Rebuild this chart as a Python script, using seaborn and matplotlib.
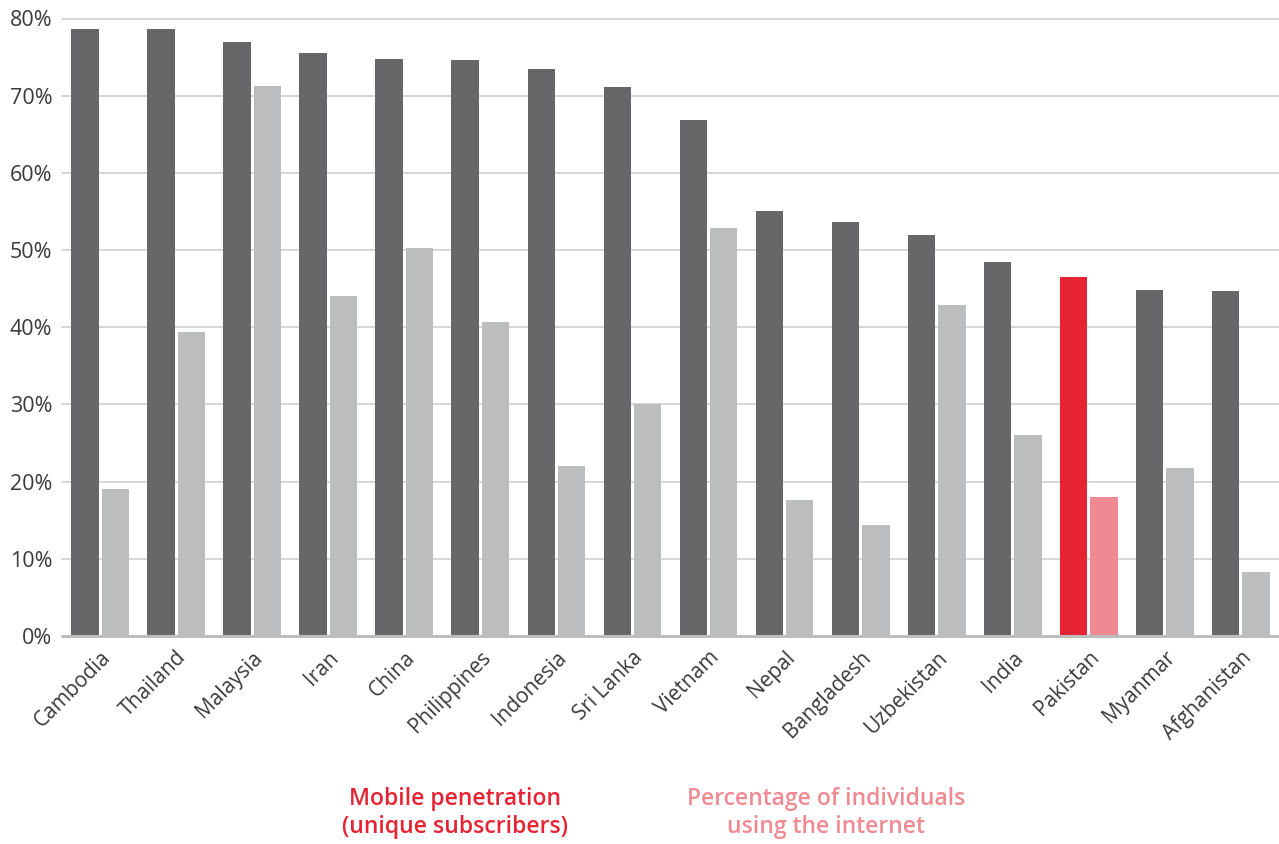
import matplotlib
matplotlib.use("Agg")
import matplotlib.pyplot as plt
import seaborn as sns
import pandas as pd
from matplotlib.ticker import FuncFormatter

countries = ["Cambodia", "Thailand", "Malaysia", "Iran", "China", "Philippines",
             "Indonesia", "Sri Lanka", "Vietnam", "Nepal", "Bangladesh",
             "Uzbekistan", "India", "Pakistan", "Myanmar", "Afghanistan"]
mobile = [78.7, 78.7, 77.0, 75.5, 74.7, 74.6, 73.4, 71.1, 66.8, 55.1, 53.6,
          52.0, 48.4, 46.5, 44.8, 44.7]
internet = [19.1, 39.4, 71.2, 44.1, 50.3, 40.7, 22.0, 30.1, 52.8, 17.6, 14.4,
            42.9, 26.0, 18.0, 21.8, 8.3]
series = ["Mobile penetration\n(unique subscribers)",
          "Percentage of individuals\nusing the internet"]
highlight = "Pakistan"

df = pd.DataFrame({
    "country": countries * 2,
    "value": mobile + internet,
    "series": [series[0]] * len(countries) + [series[1]] * len(countries),
})

sns.set_theme(style="white")
plt.rcParams["font.family"] = ["Open Sans", "DejaVu Sans"]

DARK = "#676769"
LIGHT = "#BCBDBF"
RED = "#E52333"
PINK = "#EF8A93"
TXT = "#3a3a3a"

fig = plt.figure(figsize=(12.79, 8.44), dpi=100)
ax = fig.add_axes([62 / 1279, 1 - 636 / 844, 1 - 62 / 1279, (636 - 18.5) / 844])

sns.barplot(data=df, x="country", y="value", hue="series", order=countries,
            hue_order=series, palette=[DARK, LIGHT], width=0.8, saturation=1,
            legend=False, ax=ax)

d = 0.02
hi = countries.index(highlight)
for ci, cont in enumerate(ax.containers):
    for i, p in enumerate(cont):
        p.set_x(p.get_x() + d)
        p.set_width(p.get_width() - 2 * d)
        p.set_edgecolor("none")
        if i == hi:
            p.set_facecolor(RED if ci == 0 else PINK)

ax.set_xlim(-0.5, len(countries) - 0.5)
ax.set_ylim(0, 80)
ax.set_yticks(range(0, 81, 10))
ax.yaxis.set_major_formatter(FuncFormatter(lambda v, _: f"{int(v)}%"))
for y in range(10, 81, 10):
    ax.axhline(y, color="#d0d0d0", lw=1.2, zorder=0, clip_on=False)
ax.axhline(0, color="#bdbdbd", lw=2.2, zorder=3, clip_on=False)
for s in ax.spines.values():
    s.set_visible(False)

ax.set_xlabel("")
ax.set_ylabel("")
ax.tick_params(axis="y", length=0, pad=7, labelsize=15.5, labelcolor=TXT)
ax.tick_params(axis="x", length=0, pad=8, labelsize=15, labelcolor=TXT)
plt.setp(ax.get_xticklabels(), rotation=45, ha="right", rotation_mode="anchor")

fig.text(455 / 1279, 1 - 813 / 844, series[0], color=RED, fontsize=16.5,
         ha="center", va="center", linespacing=1.25, fontweight="semibold")
fig.text(826 / 1279, 1 - 813 / 844, series[1], color=PINK, fontsize=16.5,
         ha="center", va="center", linespacing=1.25, fontweight="semibold")

fig.savefig("out.png", dpi=100)
